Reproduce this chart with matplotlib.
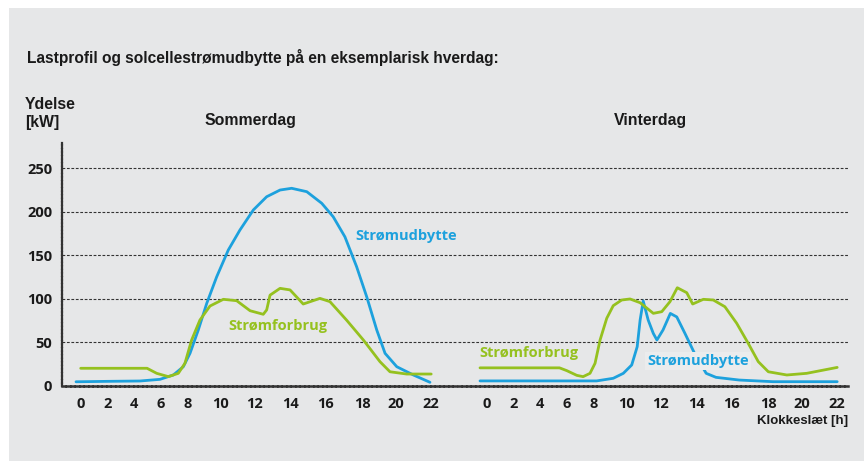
import numpy as np
import matplotlib
matplotlib.use("Agg")
import matplotlib.pyplot as plt

# ---------------- data ----------------
hour_ticks = [0, 2, 4, 6, 8, 10, 12, 14, 16, 18, 20, 22]
y_ticks = [0, 50, 100, 150, 200, 250]

summer_yield_h = [-0.35, 2, 4.45, 5.93, 6.92, 7.66, 8.13, 8.64, 9.16, 9.77, 10.46, 11.14,
                  11.92, 12.67, 13.42, 14.07, 14.92, 15.76, 16.4, 17.05, 17.7, 18.28,
                  18.87, 19.36, 20.05, 20.99, 21.93]
summer_yield_v = [4.5, 5, 5.4, 7.3, 12.3, 21.8, 37.2, 64, 94.6, 125, 155.8, 178.8,
                  201.8, 217, 224.7, 226.7, 222.8, 209.5, 194, 171, 136.7, 102,
                  64, 37.2, 21.8, 12.3, 3.9]

summer_load_h = [0, 2, 4.45, 4.97, 5.69, 6.55, 7.29, 7.78, 8.23, 8.74, 9.36, 10.17, 10.95,
                 11.73, 12.48, 12.67, 12.86, 13.42, 13.98, 14.72, 15.66, 16.22, 17.14,
                 18.08, 19.06, 19.65, 20.61, 22]
summer_load_v = [20, 20, 20, 20, 14.2, 10.4, 14.2, 25.7, 52.5, 75.4, 91.5, 99.2, 97.6,
                 86.1, 82, 87, 104, 111.8, 110, 93.8, 100.3, 96.5, 75.4,
                 52.5, 27.6, 16, 13.4, 13.4]

winter_load_h = [-0.5, 2, 5.45, 5.99, 6.73, 7.2, 7.71, 8.07, 8.38, 8.79, 9.19, 9.71, 10.21,
                 10.8, 11.57, 12.06, 12.52, 12.93, 13.46, 13.79, 14.39, 14.95, 15.6, 16.26,
                 16.9, 17.46, 18.02, 19.11, 20.27, 22]
winter_load_v = [20.5, 20.5, 20.5, 17.3, 11.9, 10.4, 14.2, 25.7, 52.5, 77.4, 91.9, 98.4, 99.6,
                 95.3, 83.1, 85, 96.5, 112.5, 106.8, 93.8, 99.2, 98.4, 90.7, 71.7,
                 48.7, 27.6, 16, 12.3, 14.2, 21]

winter_yield_h = [-0.5, 4, 8.17, 9.19, 9.81, 10.31, 10.63, 10.8, 10.98, 11.27, 11.57, 11.78,
                  12.13, 12.54, 12.9, 13.36, 13.9, 14.55, 15.1, 16.4, 18.3, 22]
winter_yield_v = [5.5, 5.5, 5.5, 8.5, 14.2, 23.8, 44.8, 75.4, 97.3, 75.4, 60, 52.5,
                  64, 83, 79, 60, 37, 14.2, 9.6, 6.5, 4.6, 4.6]

# ---------------- styling ----------------
BG = "#E6E7E8"
BLUE = "#1DA1DD"
GREEN = "#95C11F"
DARK = "#1A1A1A"

W, H = 864, 461
fig = plt.figure(figsize=(W / 100, H / 100), dpi=100)
fig.patch.set_facecolor("white")
fig.patches.append(plt.Rectangle((9 / W, 0), 1 - 9 / W, 1 - 8 / H, transform=fig.transFigure,
                                 facecolor=BG, edgecolor="none", zorder=-10))

# non-uniform hour axis (as drawn in the reference)
knot_h = np.array([-4, 0, 2, 4, 6, 8, 10, 12, 14, 16, 18, 20, 22, 26], dtype=float)
knot_u = np.array([-53.6, 0, 26.8, 53.3, 80.2, 107.2, 139.7, 174, 209.7, 245.3, 281.3,
                   315.2, 350.5, 420.9])


def fwd(x):
    return np.interp(x, knot_h, knot_u)


def inv(u):
    return np.interp(u, knot_u, knot_h)


def px_x(p):
    return p / W


def px_y(p):
    return 1 - p / H


y_bot_px, y_top_px = 385.7, 143
ppu = (385.7 - 168) / 250
ymax = (y_bot_px - y_top_px) / ppu
mid = 458
axL = fig.add_axes([px_x(62), px_y(y_bot_px), (mid - 62) / W, (y_bot_px - y_top_px) / H])
axR = fig.add_axes([px_x(mid), px_y(y_bot_px), (849 - mid) / W, (y_bot_px - y_top_px) / H])

tick_font = dict(family=["Open Sans", "DejaVu Sans"], weight="bold", size=10.5)

for ax, zero_px, right_px, left_px in [(axL, 80.7, mid, 62), (axR, 486.7, 849, mid)]:
    ax.set_facecolor("none")
    ax.set_xscale("function", functions=(fwd, inv))
    ax.set_xlim(inv(left_px - zero_px), inv(right_px - zero_px))
    ax.set_ylim(0, ymax)
    ax.set_xticks(hour_ticks)
    ax.set_xticklabels([str(h) for h in hour_ticks], **tick_font, color=DARK)
    ax.set_yticks(y_ticks)
    ax.tick_params(axis="both", length=0, pad=7)
    ax.tick_params(axis="x", pad=8)
    ax.xaxis.set_minor_locator(matplotlib.ticker.NullLocator())
    for s in ["top", "right", "left"]:
        ax.spines[s].set_visible(False)
    ax.spines["bottom"].set_linestyle((0, (1.2, 0.6)))
    ax.spines["bottom"].set_linewidth(1.8)
    ax.spines["bottom"].set_color("#333333")
    ax.grid(axis="y", color="#333333", linestyle=(0, (2.5, 1.5)), linewidth=0.8)
    ax.grid(axis="x", visible=False)

axL.set_yticklabels([str(v) for v in y_ticks], **tick_font, color=DARK)
axL.spines["left"].set_visible(True)
axL.spines["left"].set_linestyle((0, (1, 0.6)))
axL.spines["left"].set_linewidth(1.6)
axL.spines["left"].set_color("#333333")
axR.set_yticklabels([])

lw = 2.0
style = dict(lw=lw, solid_joinstyle="round", solid_capstyle="round")
axL.plot(summer_yield_h, summer_yield_v, color=BLUE, zorder=3, **style)
axL.plot(summer_load_h, summer_load_v, color=GREEN, zorder=4, **style)
axR.plot(winter_yield_h, winter_yield_v, color=BLUE, zorder=3, **style)
axR.plot(winter_load_h, winter_load_v, color=GREEN, zorder=4, **style)

lab_font = dict(family=["Open Sans", "DejaVu Sans"], weight="bold", size=10.5)
fig.text(px_x(355), px_y(236), "Strømudbytte", color=BLUE, ha="left", va="center", **lab_font)
fig.text(px_x(228), px_y(325.7), "Strømforbrug", color=GREEN, ha="left", va="center", **lab_font)
fig.text(px_x(479), px_y(352.7), "Strømforbrug", color=GREEN, ha="left", va="center", **lab_font)
fig.text(px_x(647), px_y(360.7), "Strømudbytte", color=BLUE, ha="left", va="center", zorder=10,
         bbox=dict(boxstyle="square,pad=0.15", facecolor="#EBECED", edgecolor="none"), **lab_font)

head_font = dict(family=["Liberation Sans", "DejaVu Sans"], weight="bold")
fig.text(px_x(27), px_y(62.7), "Lastprofil og solcellestrømudbytte på en eksemplarisk hverdag:",
         ha="left", va="baseline", size=11.2, color=DARK, **head_font)
fig.text(px_x(25), px_y(109.3), "Ydelse", ha="left", va="baseline", size=11.4, color=DARK, **head_font)
fig.text(px_x(25), px_y(127.5), "[kW]", ha="left", va="baseline", size=11.4, color=DARK, **head_font)
fig.text(px_x(205), px_y(125), "Sommerdag", ha="left", va="baseline", size=11.4, color=DARK, **head_font)
fig.text(px_x(614), px_y(125), "Vinterdag", ha="left", va="baseline", size=11.4, color=DARK, **head_font)
fig.text(px_x(848), px_y(424), "Klokkeslæt [h]", ha="right", va="baseline", size=9.5, color=DARK, **head_font)

fig.savefig("out.png", dpi=100, facecolor=fig.get_facecolor())
